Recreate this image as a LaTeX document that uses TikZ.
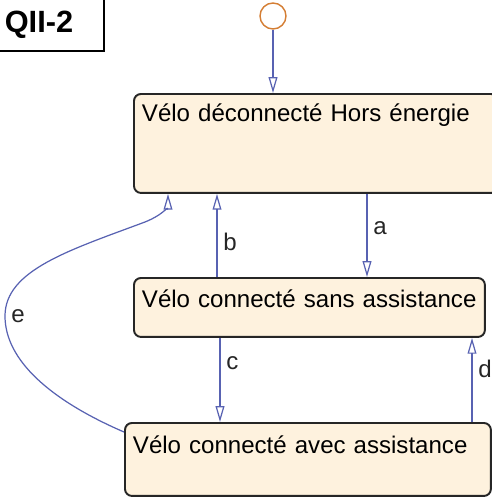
\documentclass[tikz,border=0pt]{standalone}
\usepackage{fontspec}
\setmainfont{Liberation Sans}
\usetikzlibrary{arrows.meta,calc,positioning}
\definecolor{statefill}{RGB}{254,242,222}
\definecolor{transblue}{RGB}{88,98,178}
\definecolor{initorange}{RGB}{212,126,52}
\tikzset{x=0.02cm, y=-0.02cm,
	state/.style={draw=black!85, line width=1.1pt, rounded corners=4pt, fill=statefill, anchor=north west, inner xsep=0.16cm, inner ysep=0pt, align=left, font=\fontsize{13.7}{16}\selectfont},
	initial/.style={draw=initorange, line width=0.8pt, circle, minimum size=0.52cm, inner sep=0pt},
	trans/.style={draw=transblue, line width=0.7pt, -{Triangle[open, length=9pt, width=5pt]}},
	lbl/.style={font=\fontsize{13.7}{16}\selectfont, text=black!85}}

\begin{document}
\begin{tikzpicture}
				\useasboundingbox (0,0) rectangle (491,497);

				\node[draw, line width=0.9pt, anchor=north west, inner xsep=0.2cm, inner ysep=0pt, text width=1.78cm, text height=0.76cm, text depth=0.36cm, font=\fontsize{17.5}{20}\selectfont\bfseries] (Q) at (-6,-6) {QII-2};

				\node[initial] (I) at (273,16) {};
				\node[state, text width=6.96cm, text height=0.56cm, text depth=1.42cm] (D) at (133,93) {Vélo déconnecté Hors énergie};
				\node[state, text width=6.70cm, text height=0.60cm, text depth=0.58cm] (S) at (133,277) {Vélo connecté sans assistance};
				\node[state, text width=7.00cm, text height=0.62cm, text depth=0.84cm] (A) at (124,422) {Vélo connecté avec assistance};

				\coordinate (xi) at (273,0);
				\coordinate (xa) at (367,0);
				\coordinate (xb) at (217,0);
				\coordinate (xc) at (220,0);
				\coordinate (xd) at (472,0);
				\coordinate (xe) at (168,0);

				\path[trans] (I) -- (D.north -| xi);
				\path[trans] (D.south -| xa) -- node[lbl, right, pos=0.41] {a} (S.north -| xa);
				\path[trans] (S.north -| xb) -- node[lbl, right, pos=0.42] {b} (D.south -| xb);
				\path[trans] (S.south -| xc) -- node[lbl, right, pos=0.30] {c} (A.north -| xc);
				\path[trans] (A.north -| xd) -- node[lbl, right, pos=0.63] {d} (S.south -| xd);
				\path[trans] ($(A.north west)+(0,10)$) .. controls (50,400) and (5,360) .. (5,316) node[lbl, right] {e}
				.. controls (5,270) and (70,250) .. (145,222) .. controls (165,214) and (168,205) .. (D.south -| xe);
			\end{tikzpicture}
\end{document}
